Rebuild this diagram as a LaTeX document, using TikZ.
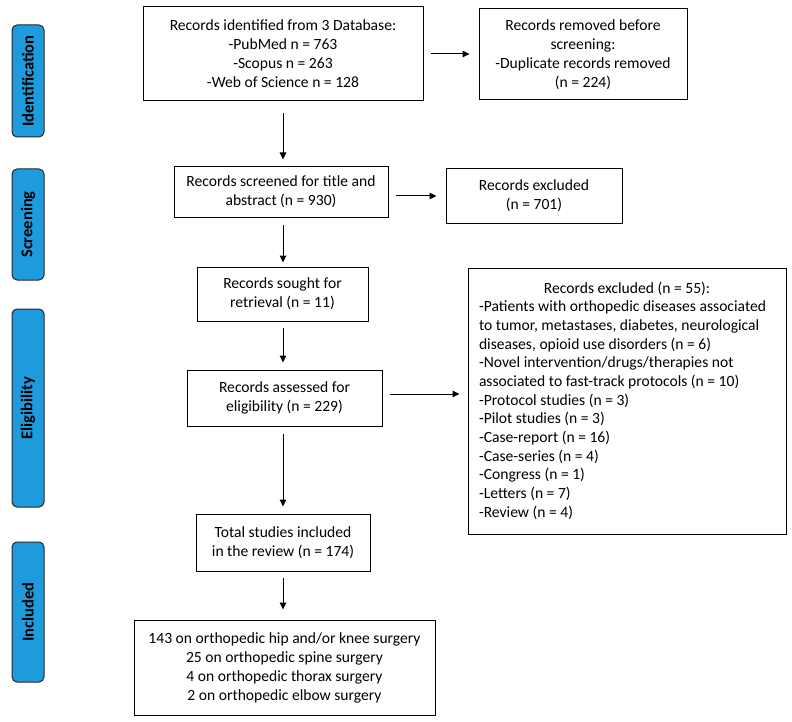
\documentclass[tikz,border=0pt]{standalone}
\usepackage{fontspec}
\setmainfont{Carlito}
\usetikzlibrary{arrows.meta,calc}
\definecolor{barblue}{RGB}{30,155,220}
\begin{document}
\begin{tikzpicture}[x=1pt,y=-1pt,
  box/.style={draw=black,line width=1pt,inner sep=0pt,align=center,
    font=\fontsize{15.6}{19}\selectfont},
  bar/.style={draw=black!85,fill=barblue,line width=1pt,rounded corners=5pt,
    minimum width=32pt,inner sep=0pt},
  barlabel/.style={rotate=90,font=\fontsize{16.5}{19}\selectfont\bfseries},
  arr/.style={-{Triangle[length=7pt,width=6.5pt]},line width=1pt}]
\useasboundingbox (0,0) rectangle (792,722);
% side bars
\node[bar,minimum height=112pt] (bid) at (28,81) {};
\node[barlabel] (lid) at (bid.center) {Identification};
\node[bar,minimum height=111pt] (bsc) at (28,224.5) {};
\node[barlabel] (lsc) at (bsc.center) {Screening};
\node[bar,minimum height=198pt] (bel) at (28,408) {};
\node[barlabel] (lel) at (bel.center) {Eligibility};
\node[bar,minimum height=140pt] (bin) at (28,612) {};
\node[barlabel] (lin) at (bin.center) {Included};
% boxes
\node[box,minimum width=280pt,minimum height=94pt] (b1) at (283,54)
  {Records identified from 3 Database:\\-PubMed n = 763\\-Scopus n = 263\\-Web of Science n = 128};
\node[box,minimum width=208pt,minimum height=91pt] (b2) at (583,54.5)
  {Records removed before\\screening:\\-Duplicate records removed\\(n = 224)};
\node[box,minimum width=214pt,minimum height=50pt] (b3) at (281,192)
  {Records screened for title and\\abstract (n = 930)};
\node[box,minimum width=176pt,minimum height=54pt] (b4) at (534,196)
  {Records excluded\\(n = 701)};
\node[box,minimum width=171pt,minimum height=54pt] (b5) at (282.5,294)
  {Records sought for\\retrieval (n = 11)};
\node[box,minimum width=195pt,minimum height=56pt] (b6) at (284.5,398)
  {Records assessed for\\eligibility (n = 229)};
\node[box,minimum width=318pt,minimum height=266pt,align=left,
  font=\fontsize{15.6}{18.7}\selectfont] (b7) at (627,401)
  {\parbox{296pt}{\centering Records excluded (n = 55):}\\
   -Patients with orthopedic diseases associated\\
   to tumor, metastases, diabetes, neurological\\
   diseases, opioid use disorders (n = 6)\\
   -Novel intervention/drugs/therapies not\\
   associated to fast-track protocols (n = 10)\\
   -Protocol studies (n = 3)\\
   -Pilot studies (n = 3)\\
   -Case-report (n = 16)\\
   -Case-series (n = 4)\\
   -Congress (n = 1)\\
   -Letters (n = 7)\\
   -Review (n = 4)};
\node[box,minimum width=174pt,minimum height=57pt] (b8) at (283,542.5)
  {Total studies included\\in the review (n = 174)};
\node[box,minimum width=301pt,minimum height=95pt] (b9) at (284.5,667.5)
  {143 on orthopedic hip and/or knee surgery\\25 on orthopedic spine surgery\\4 on orthopedic thorax surgery\\2 on orthopedic elbow surgery};
% arrows
\draw[arr,shorten <=12pt,shorten >=7pt] (b1.south) -- (b1.south |- b3.north);
\draw[arr,shorten <=7pt,shorten >=9pt] (b1.east) -- (b1.east -| b2.west);
\draw[arr,shorten <=7pt,shorten >=9pt] (b3.east |- b4.west) -- (b4.west);
\draw[arr,shorten <=7pt,shorten >=4pt] (b3.south -| b1.south) -- (b5.north -| b1.south);
\draw[arr,shorten <=6pt,shorten >=7pt] (b5.south -| b1.south) -- (b6.north -| b1.south);
\draw[arr,shorten <=7pt,shorten >=8pt] ([yshift=4pt]b6.east) -- ([yshift=4pt]b6.east -| b7.west);
\draw[arr,shorten <=7pt,shorten >=7pt] (b6.south -| b1.south) -- (b8.north -| b1.south);
\draw[arr,shorten <=6pt,shorten >=10pt] (b8.south -| b1.south) -- (b9.north -| b1.south);
\end{tikzpicture}
\end{document}
